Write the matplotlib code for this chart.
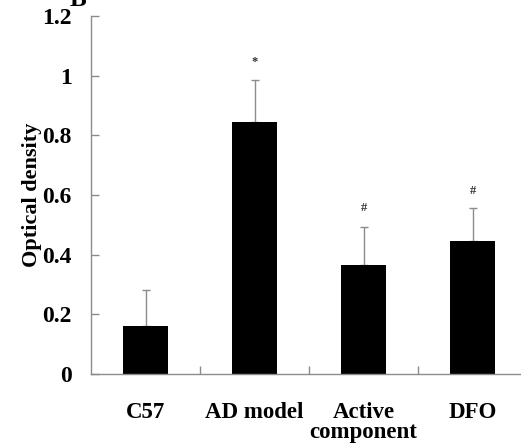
import matplotlib
matplotlib.use("Agg")
import matplotlib.pyplot as plt

groups = ["C57", "AD model", "Active\ncomponent", "DFO"]
means = [0.161, 0.844, 0.366, 0.447]
errors = [0.121, 0.141, 0.128, 0.109]
marks = ["", "*", "#", "#"]
mark_pos = [None, 1.045, 0.555, 0.615]

plt.rcParams["font.family"] = ["Liberation Serif", "DejaVu Serif"]
plt.rcParams["font.weight"] = "bold"

fig = plt.figure(figsize=(5.21, 4.48), dpi=100)
ax = fig.add_axes([91 / 521, 74 / 448, 436 / 521, 358 / 448])

x = range(len(groups))
ax.bar(x, means, width=0.41, color="black", zorder=2)
ax.errorbar(x, means, yerr=[[0] * len(means), errors], fmt="none",
            ecolor="#8c8c8c", elinewidth=1, capsize=3, capthick=1, zorder=1)

for i, m in enumerate(marks):
    if m:
        ax.text(i, mark_pos[i], m, ha="center", va="center", fontsize=9,
                fontweight="bold", color="#333333")

ax.set_xlim(-0.5, 3.5)
ax.set_ylim(0, 1.2)
ax.set_yticks([0, 0.2, 0.4, 0.6, 0.8, 1, 1.2])
ax.set_yticklabels(["0", "0.2", "0.4", "0.6", "0.8", "1", "1.2"])
ax.set_xticks([0.5, 1.5, 2.5])
ax.set_xticklabels([])
ax.tick_params(axis="both", direction="in", length=6, color="#8c8c8c", width=1)
ax.tick_params(axis="y", labelsize=17, pad=14)

for i, g in enumerate(groups):
    ax.text(i, -0.093, g, ha="center", va="top", fontsize=16.5, fontweight="bold",
            linespacing=0.95)

for s in ["top", "right"]:
    ax.spines[s].set_visible(False)
for s in ["left", "bottom"]:
    ax.spines[s].set_color("#8c8c8c")
    ax.spines[s].set_linewidth(1)

ax.set_ylabel("Optical density", fontsize=16, fontweight="bold", labelpad=0)
fig.text(70 / 521, 1.0, "B", fontsize=18, fontweight="bold", va="center")

fig.savefig("out.png", dpi=100)
